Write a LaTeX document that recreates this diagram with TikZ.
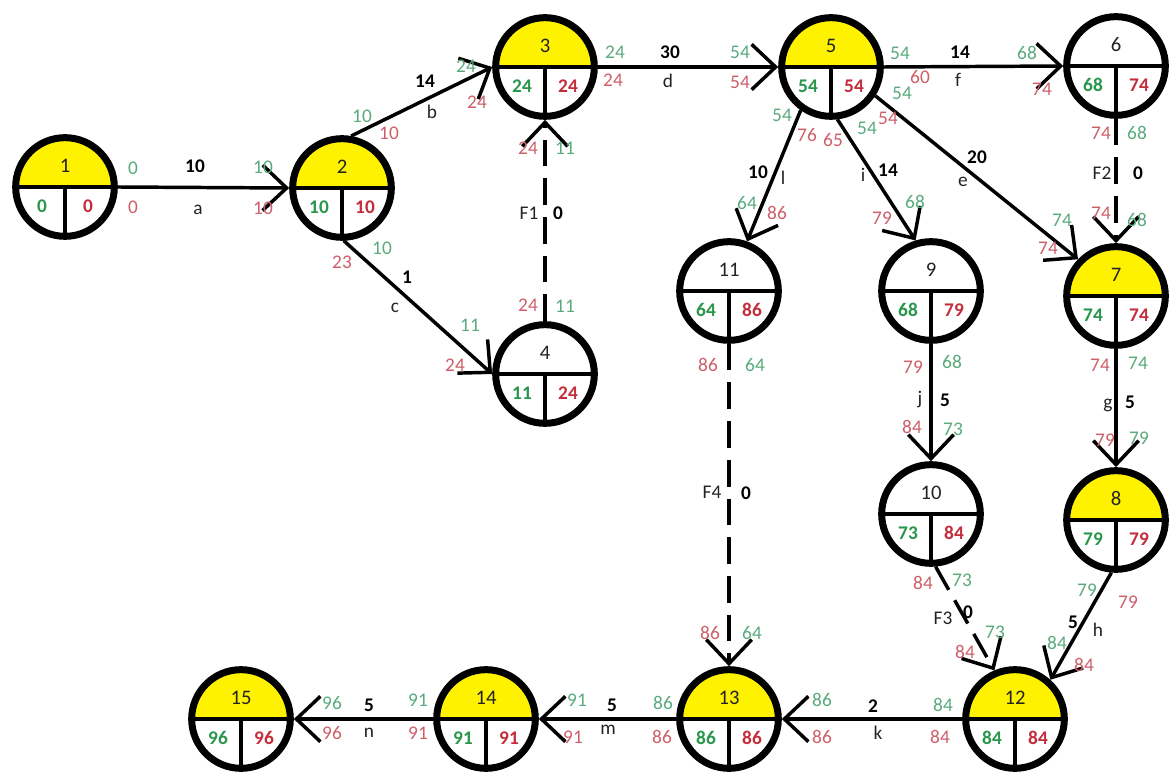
\documentclass[tikz,border=0pt]{standalone}
\usepackage{fontspec}
\setmainfont{Carlito}
\usetikzlibrary{arrows.meta,calc}
\definecolor{evyel}{RGB}{255,242,0}
\definecolor{grnB}{RGB}{40,150,75}
\definecolor{redB}{RGB}{195,45,60}
\definecolor{grnL}{RGB}{90,170,125}
\definecolor{redL}{RGB}{205,95,105}
\definecolor{ink}{RGB}{35,35,35}
\newcommand\evR{37pt}
\newcounter{tcnt}
\newcommand\tx[3]{\stepcounter{tcnt}\node[#1] (t\arabic{tcnt}) at (#2) {#3};}
\newcommand\ev[7]{%
  \fill[#7] (#2,#3) ++(\evR,0) arc[start angle=0,end angle=180,radius=\evR] -- cycle;
  \draw[divl] (#2,#3) ++(-\evR,0) -- ++(2*\evR,0);
  \draw[divl] (#2,#3) -- ++(0,-\evR);
  \node[evc] (#1) at (#2,#3) {};
  \node[numl] (#1num) at ($(#1.center)+(0,-21)$) {#4};
  \node[esl] (#1es) at ($(#1.center)+(-23,19)$) {#5};
  \node[lsl] (#1ls) at ($(#1.center)+(23,19)$) {#6};
}
\begin{document}
\begin{tikzpicture}[x=0.75pt,y=-0.75pt,
  evc/.style={circle,draw=black,line width=5.25pt,minimum size=74pt,inner sep=0pt},
  divl/.style={line width=2.6pt,black},
  lab/.style={inner sep=0pt,font=\fontsize{14.5}{17}\selectfont},
  numl/.style={lab,text=ink,font=\fontsize{15.5}{18}\selectfont},
  esl/.style={lab,text=grnB,font=\fontsize{14.5}{17}\selectfont\bfseries},
  lsl/.style={lab,text=redB,font=\fontsize{14.5}{17}\selectfont\bfseries},
  gl/.style={lab,text=grnL},
  rl/.style={lab,text=redL},
  wt/.style={lab,text=black,font=\fontsize{14.5}{17}\selectfont\bfseries},
  nm/.style={lab,text=ink},
  edg/.style={line width=2.6pt,-{Straight Barb[length=18pt,width=34pt]}},
  dsh/.style={edg,dash pattern=on 20pt off 9pt}]
\useasboundingbox[fill=white] (0,0) rectangle (1171,773);
% events
\ev{n1}{65}{187}{1}{0}{0}{evyel}
\ev{n2}{342}{188}{2}{10}{10}{evyel}
\ev{n3}{545}{67}{3}{24}{24}{evyel}
\ev{n4}{545}{374}{4}{11}{24}{white}
\ev{n5}{831}{67}{5}{54}{54}{evyel}
\ev{n6}{1116}{66}{6}{68}{74}{white}
\ev{n7}{1116}{296}{7}{74}{74}{evyel}
\ev{n8}{1116}{520}{8}{79}{79}{evyel}
\ev{n9}{931}{291}{9}{68}{79}{white}
\ev{n10}{931}{514}{10}{73}{84}{white}
\ev{n11}{729}{291}{11}{64}{86}{white}
\ev{n12}{1015}{719}{12}{84}{84}{evyel}
\ev{n13}{729}{719}{13}{86}{86}{evyel}
\ev{n14}{486}{719}{14}{91}{91}{evyel}
\ev{n15}{241}{719}{15}{96}{96}{evyel}
% activities
\draw[edg] (n1.east) -- (n2.west);
\draw[edg] (n2.80) -- (n3.west);
\draw[edg] (n2.-88) -- (n4.west);
\draw[dsh] (n4.north) -- (n3.south);
\draw[edg] (n3.east) -- (n5.west);
\draw[edg] (n5.east) -- (n6.west);
\draw[edg] (n5.-125) -- (n11.70);
\draw[edg] (n5.-83) -- (n9.107);
\draw[edg] (n5.-33) -- (n7.136);
\draw[dsh] (n6.south) -- (n7.north);
\draw[edg] (n7.south) -- (n8.north);
\draw[edg] (n9.south) -- (n10.north);
\draw[dsh] (n11.south) -- (n13.north);
\draw[dsh] (n10.-85) -- (n12.113);
\draw[edg] (n8.-95) -- (n12.48);
\draw[edg] (n12.west) -- (n13.east);
\draw[edg] (n13.west) -- (n14.east);
\draw[edg] (n14.west) -- (n15.east);
% a
\tx{gl}{133,168}{0} \tx{rl}{133,207}{0}
\tx{wt}{195,166}{10} \tx{nm}{198,210}{a}
\tx{gl}{263,167}{10} \tx{rl}{263,208}{10}
% b
\tx{gl}{362,116}{10} \tx{rl}{389,133}{10}
\tx{wt}{425,81}{14} \tx{nm}{432,112}{b}
\tx{gl}{466,66}{24} \tx{rl}{477,102}{24}
% c
\tx{gl}{382,248}{10} \tx{rl}{342,262}{23}
\tx{wt}{407,277}{1} \tx{nm}{395,308}{c}
\tx{gl}{470,325}{11} \tx{rl}{455,365}{24}
% F1
\tx{rl}{528,305}{24} \tx{gl}{565,306}{11}
\tx{nm}{529,213}{F1} \tx{wt}{558,213}{0}
\tx{rl}{528,148}{24} \tx{gl}{565,148}{11}
% d
\tx{gl}{615,52}{24} \tx{rl}{613,80}{24}
\tx{wt}{670,52}{30} \tx{nm}{668,81}{d}
\tx{gl}{740,52}{54} \tx{rl}{740,82}{54}
% f
\tx{gl}{900,53}{54} \tx{rl}{920,77}{60}
\tx{wt}{960,52}{14} \tx{nm}{958,80}{f}
\tx{gl}{1027,53}{68} \tx{rl}{1042,89}{74}
% e
\tx{gl}{902,93}{54} \tx{rl}{888,118}{54}
\tx{wt}{977,157}{20} \tx{nm}{963,182}{e}
\tx{gl}{1062,220}{74} \tx{rl}{1048,248}{74}
% l
\tx{gl}{782,115}{54} \tx{rl}{807,135}{76}
\tx{wt}{758,172}{10} \tx{nm}{783,178}{l}
\tx{gl}{747,203}{64} \tx{rl}{777,213}{86}
% i
\tx{rl}{833,140}{65} \tx{gl}{867,128}{54}
\tx{nm}{863,175}{i} \tx{wt}{888,170}{14}
\tx{rl}{882,218}{79} \tx{gl}{915,202}{68}
% F2
\tx{rl}{1101,133}{74} \tx{gl}{1137,133}{68}
\tx{nm}{1102,173}{F2} \tx{wt}{1138,173}{0}
\tx{rl}{1101,213}{74} \tx{gl}{1137,220}{68}
% g
\tx{rl}{1100,365}{74} \tx{gl}{1138,363}{74}
\tx{nm}{1108,405}{g} \tx{wt}{1130,402}{5}
\tx{rl}{1105,440}{79} \tx{gl}{1139,438}{79}
% j
\tx{rl}{913,367}{79} \tx{gl}{952,362}{68}
\tx{nm}{920,400}{j} \tx{wt}{945,400}{5}
\tx{rl}{912,427}{84} \tx{gl}{953,429}{73}
% F4
\tx{rl}{708,365}{86} \tx{gl}{755,365}{64}
\tx{nm}{712,492}{F4} \tx{wt}{746,493}{0}
\tx{rl}{710,633}{86} \tx{gl}{752,633}{64}
% F3
\tx{rl}{923,583}{84} \tx{gl}{962,580}{73}
\tx{nm}{943,618}{F3} \tx{wt}{968,612}{0}
\tx{rl}{965,652}{84} \tx{gl}{995,632}{73}
% h
\tx{gl}{1087,590}{79} \tx{rl}{1128,602}{79}
\tx{wt}{1073,622}{5} \tx{nm}{1098,630}{h}
\tx{gl}{1057,643}{84} \tx{rl}{1084,665}{84}
% k
\tx{gl}{943,705}{84} \tx{rl}{940,737}{84}
\tx{wt}{873,706}{2} \tx{nm}{878,733}{k}
\tx{gl}{822,700}{86} \tx{rl}{822,737}{86}
% m
\tx{gl}{663,703}{86} \tx{rl}{662,737}{86}
\tx{wt}{612,705}{5} \tx{nm}{608,730}{m}
\tx{gl}{577,700}{91} \tx{rl}{573,737}{91}
% n
\tx{gl}{418,700}{91} \tx{rl}{418,733}{91}
\tx{wt}{369,705}{5} \tx{nm}{369,733}{n}
\tx{gl}{332,703}{96} \tx{rl}{332,733}{96}
\end{tikzpicture}
\end{document}
